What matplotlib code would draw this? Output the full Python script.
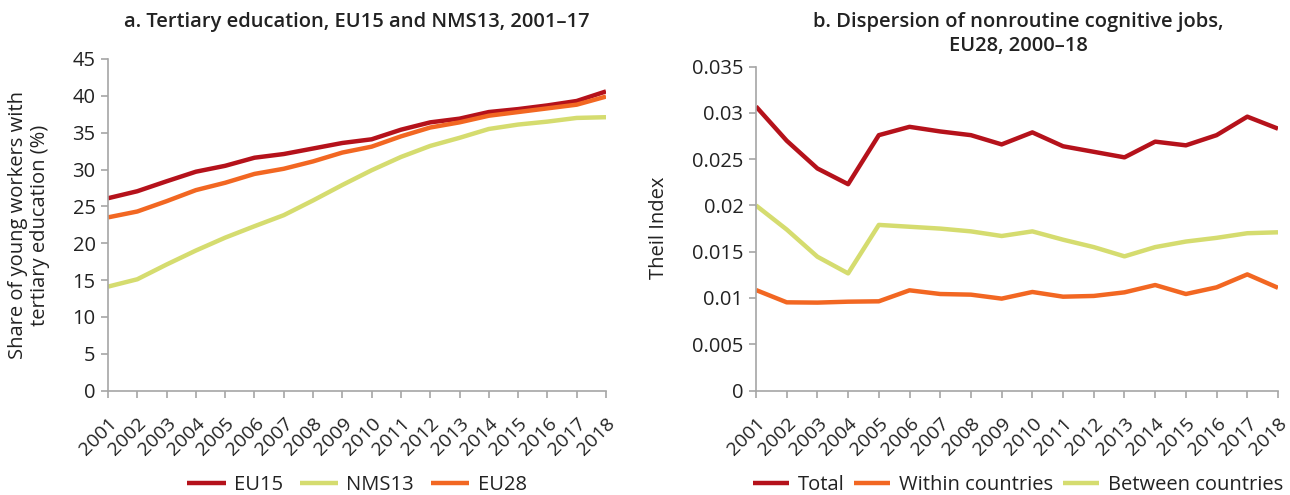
import matplotlib
matplotlib.use("Agg")
import matplotlib.pyplot as plt
import numpy as np

plt.rcParams['font.family'] = ['Open Sans', 'DejaVu Sans']

years = [str(y) for y in range(2001, 2019)]

eu15 = [26.1, 27.05, 28.4, 29.7, 30.5, 31.6, 32.1, 32.85, 33.6, 34.1, 35.4, 36.4, 36.9, 37.8, 38.2, 38.7, 39.3, 40.6]
nms13 = [14.1, 15.1, 17.1, 19.0, 20.75, 22.3, 23.8, 25.8, 27.9, 29.9, 31.7, 33.2, 34.3, 35.5, 36.1, 36.5, 37.0, 37.1]
eu28 = [23.5, 24.3, 25.7, 27.2, 28.2, 29.4, 30.1, 31.1, 32.3, 33.1, 34.5, 35.7, 36.4, 37.3, 37.8, 38.3, 38.8, 39.9]

total = [0.0307, 0.0270, 0.0240, 0.0223, 0.0276, 0.0285, 0.0280, 0.0276, 0.0266, 0.0279,
         0.0264, 0.0258, 0.0252, 0.0269, 0.0265, 0.0276, 0.0296, 0.0283]
within = [0.01086, 0.00953, 0.0095, 0.0096, 0.00964, 0.01083, 0.01043, 0.01036, 0.00993, 0.01065,
          0.01014, 0.01022, 0.01061, 0.0114, 0.01043, 0.01115, 0.01255, 0.0111]
between = [0.0200, 0.0174, 0.01446, 0.01266, 0.0179, 0.0177, 0.0175, 0.0172, 0.0167, 0.0172,
           0.0163, 0.0155, 0.0145, 0.0155, 0.0161, 0.0165, 0.0170, 0.0171]

RED = '#B5121B'
ORANGE = '#F26722'
GREEN = '#D5DC6F'
AXC = '#A6A6A6'
TXT = '#222222'
FS = 14.5

W, H = 1290, 495
fig = plt.figure(figsize=(W / 100, H / 100), dpi=100)
ax1 = fig.add_axes([108/W, 1-390.5/H, (606-108)/W, (390.5-59)/H])
ax2 = fig.add_axes([756/W, 1-390.5/H, (1278-756)/W, (390.5-66.7)/H])

x = np.arange(len(years))

def style(ax):
    for s in ['top', 'right']:
        ax.spines[s].set_visible(False)
    for s in ['left', 'bottom']:
        ax.spines[s].set_color(AXC)
        ax.spines[s].set_linewidth(1.2)
    ax.tick_params(axis='both', direction='out', color=AXC, length=5, width=1.2,
                   labelsize=FS, labelcolor=TXT)
    ax.set_xlim(0, len(years) - 1)
    ax.set_xticks(x)
    ax.set_xticklabels(years, rotation=45, ha='right', rotation_mode='anchor')
    ax.tick_params(axis='x', pad=12, labelsize=14)
    ax.tick_params(axis='y', pad=4)

lw = 3.2
ax1.plot(x, eu15, color=RED, lw=lw, label='EU15', solid_capstyle='butt')
ax1.plot(x, nms13, color=GREEN, lw=lw, label='NMS13', solid_capstyle='butt')
ax1.plot(x, eu28, color=ORANGE, lw=lw, label='EU28', solid_capstyle='butt')
style(ax1)
ax1.set_ylim(0, 45)
ax1.set_yticks(np.arange(0, 46, 5))
fig.text(29/W, 1-225/H, 'Share of young workers with\ntertiary education (%)', rotation=90,
         ha='center', va='center', fontsize=FS, color=TXT, linespacing=1.1)
fig.text(357/W, 1-22/H, 'a. Tertiary education, EU15 and NMS13, 2001–17', fontsize=FS,
         fontweight='semibold', color=TXT, ha='center', va='center')
ax1.legend(loc='center', bbox_to_anchor=(357/W, 1-485/H), bbox_transform=fig.transFigure,
           ncol=3, frameon=False, fontsize=FS, handlelength=1.9, handletextpad=0.4,
           columnspacing=0.85, labelcolor=TXT, borderpad=0, borderaxespad=0)

ax2.plot(x, total, color=RED, lw=lw, label='Total', solid_capstyle='butt')
ax2.plot(x, within, color=ORANGE, lw=lw, label='Within countries', solid_capstyle='butt')
ax2.plot(x, between, color=GREEN, lw=lw, label='Between countries', solid_capstyle='butt')
style(ax2)
ax2.set_ylim(0, 0.035)
yt = np.arange(0, 0.0351, 0.005)
ax2.set_yticks(yt)
ax2.set_yticklabels(['0' if v == 0 else f'{v:g}' for v in np.round(yt, 3)])
fig.text(659/W, 1-228/H, 'Theil Index', rotation=90, ha='center', va='center',
         fontsize=FS, color=TXT)
fig.text(1018/W, 1-34/H, 'b. Dispersion of nonroutine cognitive jobs,\nEU28, 2000–18',
         fontsize=FS, fontweight='semibold', color=TXT, ha='center', va='center',
         linespacing=1.25)
ax2.legend(loc='center', bbox_to_anchor=(1018/W, 1-485/H), bbox_transform=fig.transFigure,
           ncol=3, frameon=False, fontsize=FS, handlelength=1.8, handletextpad=0.45,
           columnspacing=0.45, labelcolor=TXT, borderpad=0, borderaxespad=0)

fig.savefig('out.png', dpi=100)
